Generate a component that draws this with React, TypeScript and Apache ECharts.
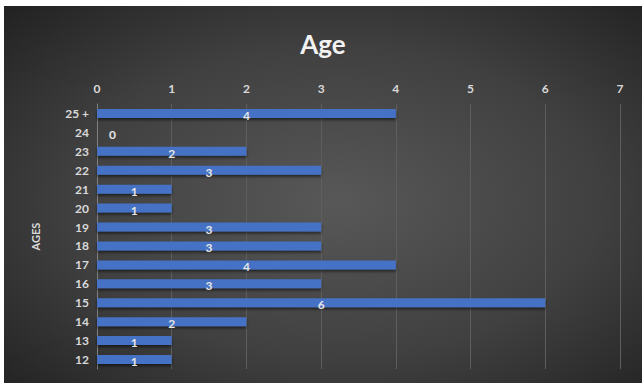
import React, { useEffect, useRef } from "react";
import * as echarts from "echarts";

const categories = ["12", "13", "14", "15", "16", "17", "18", "19", "20", "21", "22", "23", "24", "25 +"];
const counts = [1, 1, 2, 6, 3, 4, 3, 3, 1, 1, 3, 2, 0, 4];
const xTicks = { min: 0, max: 7, interval: 1 };
const titleText = "Age";
const yAxisName = "AGES";

const FONT = "Lato, 'Open Sans', sans-serif";

export default function App() {
  const ref = useRef<HTMLDivElement>(null);
  useEffect(() => {
    if (!ref.current) return;
    const chart = echarts.init(ref.current, undefined, { renderer: "svg" });
    chart.setOption({
      animation: false,
      backgroundColor: new echarts.graphic.RadialGradient(0.52, 0.52, 0.75, [
        { offset: 0, color: "#585858" },
        { offset: 0.55, color: "#404040" },
        { offset: 1, color: "#202020" },
      ]),
      title: {
        text: titleText,
        left: "center",
        top: 20,
        textStyle: { color: "#f2f2f2", fontSize: 26, fontWeight: "bold", fontFamily: FONT },
      },
      grid: { left: 93, right: 22, top: 98, bottom: 14, containLabel: false },
      xAxis: {
        type: "value",
        position: "top",
        min: xTicks.min,
        max: xTicks.max,
        interval: xTicks.interval,
        axisLine: { show: false },
        axisTick: { show: false },
        axisLabel: { color: "#d9d9d9", fontSize: 12, fontWeight: "bold", fontFamily: FONT, margin: 10 },
        splitLine: { show: true, lineStyle: { color: "#5e5e5e", width: 1 } },
      },
      yAxis: {
        type: "category",
        data: categories,
        name: yAxisName,
        nameLocation: "middle",
        nameRotate: 90,
        nameGap: 56,
        nameTextStyle: { color: "#d9d9d9", fontSize: 11, fontWeight: "bold", fontFamily: FONT },
        axisLine: { show: true, lineStyle: { color: "#808080", width: 1 } },
        axisTick: { show: false },
        axisLabel: { color: "#d9d9d9", fontSize: 12, fontWeight: "bold", fontFamily: FONT, margin: 8 },
      },
      series: [
        {
          type: "bar",
          barWidth: 9,
          data: counts.map((v) =>
            v === 0
              ? { value: v, label: { position: "right", distance: 12 } }
              : { value: v }
          ),
          itemStyle: {
            color: "#4472c4",
            shadowColor: "rgba(0,0,0,0.55)",
            shadowBlur: 3,
            shadowOffsetY: 2,
          },
          label: {
            show: true,
            position: "inside",
            offset: [0, 2],
            color: "#e6e6e6",
            fontSize: 12,
            fontWeight: "bold",
            fontFamily: FONT,
          },
        },
      ],
    });
    return () => chart.dispose();
  }, []);
  return (
    <div
      ref={ref}
      style={{ position: "absolute", left: 4, top: 6, width: 638, height: 377 }}
    />
  );
}
